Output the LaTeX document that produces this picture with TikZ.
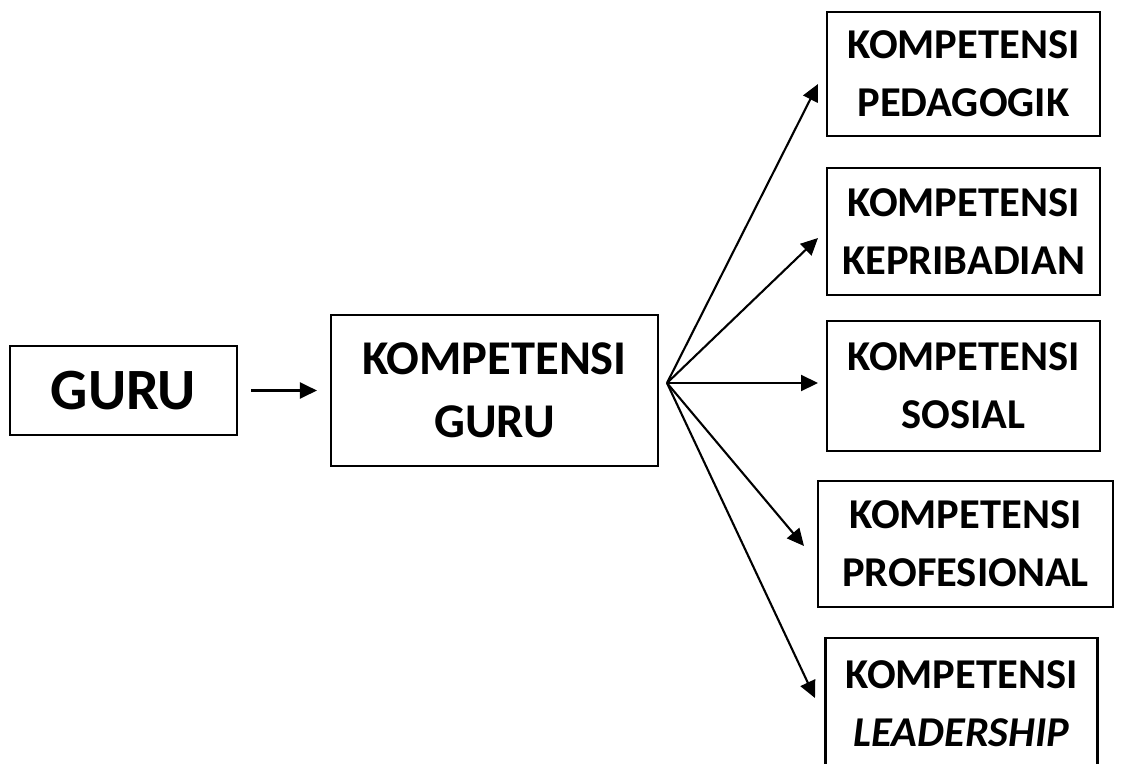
\documentclass[tikz,border=0pt]{standalone}
\usepackage{fontspec}
\setmainfont{Carlito}
\usetikzlibrary{arrows.meta}
\begin{document}
\begin{tikzpicture}[x=1pt,y=-1pt,
  box/.style={draw,line width=2.1pt,inner sep=0pt,align=center,font=\bfseries},
  bigbox/.style={box,font=\bfseries\fontsize{58.5}{60}\selectfont},
  midbox/.style={box,font=\bfseries\fontsize{48.5}{63}\selectfont},
  smallbox/.style={box,font=\bfseries\fontsize{42.5}{58}\selectfont},
  arr/.style={line width=2.1pt,-{Triangle[length=17pt,width=16pt]}}]
\useasboundingbox (0,0) rectangle (1121,763);
\clip (0,0) rectangle (1121,763);
\fill[white] (0,0) rectangle (1121,763);
\node[bigbox,minimum width=227pt,minimum height=89pt] (guru) at (123.5,390.5) {GURU};
\node[midbox,minimum width=327pt,minimum height=151pt] (kg) at (494.5,390.5) {KOMPETENSI\\GURU};
\node[smallbox,minimum width=273pt,minimum height=124pt] (ped) at (963.5,74) {KOMPETENSI\\PEDAGOGIK};
\node[smallbox,minimum width=273pt,minimum height=127pt] (kep) at (963.5,231.5) {KOMPETENSI\\KEPRIBADIAN};
\node[smallbox,minimum width=273pt,minimum height=130pt] (sos) at (963.5,386) {KOMPETENSI\\SOSIAL};
\node[smallbox,minimum width=295pt,minimum height=126pt] (prof) at (965.5,544) {KOMPETENSI\\PROFESIONAL};
\node[smallbox,minimum width=272pt,minimum height=150pt] (lead) at (961.5,713) {KOMPETENSI\\\textit{LEADERSHIP}\\[-40pt]\mbox{}};
\coordinate (fan) at (667,383);
\coordinate (tped) at (818,84);
\coordinate (tkep) at (818,238);
\coordinate (tsos) at (818,383);
\coordinate (tprof) at (804,546);
\coordinate (tlead) at (815,698);
\draw[arr] ([xshift=13pt]guru.east) -- ([xshift=-13pt]kg.west);
\draw[arr] (fan) -- (tped);
\draw[arr] (fan) -- (tkep);
\draw[arr] (fan) -- (tsos);
\draw[arr] (fan) -- (tprof);
\draw[arr] (fan) -- (tlead);
\end{tikzpicture}
\end{document}
